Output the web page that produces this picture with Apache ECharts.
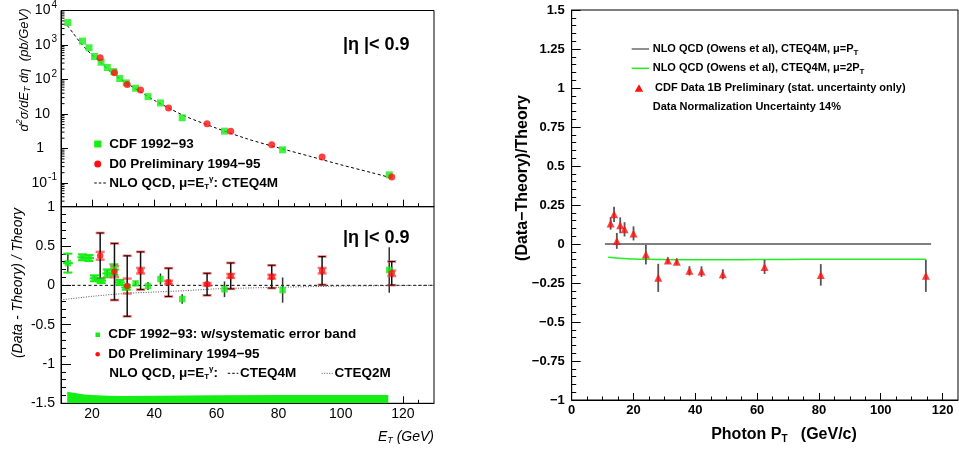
<!DOCTYPE html>
<html><head><meta charset="utf-8">
<script src="https://cdn.jsdelivr.net/npm/echarts@6/dist/echarts.min.js"></script>
<style>html,body{margin:0;padding:0;background:#fff}#c{width:959px;height:454px}</style>
</head><body><div id="c"></div><script>
// ---------- data: left top (cross section) ----------
const cdfEt    = [12.2,16.9,19.0,20.8,22.9,24.9,27.0,28.9,31.0,34.0,38.0,42.0,49.0,62.6,81.3,115.6];
const cdfXsec  = [4470,1300,830,465,318,223,170,107,80,56,32,21,7.8,3.2,0.92,0.173];
const d0Et     = [22.6,27.2,31.3,35.6,44.6,57.0,64.6,77.8,94.0,116.4];
const d0Xsec   = [426,156,72,50,15,5.2,3.2,1.3,0.57,0.15];
const nloEt    = [12,14,16,18,20,23,26,30,35,40,45,50,60,70,80,90,100,110,116.5];
const nloXsec  = [3700,2150,1250,780,520,300,165,92,47,25,14.5,8.6,3.9,1.9,1.05,0.6,0.34,0.2,0.14];
// ---------- data: left bottom (ratio) ----------
const cdfRatio = [0.283,0.356,0.347,0.089,0.059,0.152,0.20,0.038,-0.025,0.025,-0.009,0.08,-0.174,-0.05,-0.06,0.195];
const cdfStat  = [0.13,0.02,0.02,0.03,0.03,0.04,0.05,0.04,0.04,0.03,0.05,0.07,0.06,0.1,0.16,0.29];
const cdfSys   = [0.12,0.038,0.038,0.038,0.03,0.05,0.068,0.03,0.03,0,0,0,0,0,0,0];
const d0Ratio  = [0.376,0.173,-0.009,0.186,0.038,0.013,0.12,0.11,0.186,0.153];
const d0Err    = [0.29,0.36,0.385,0.24,0.18,0.14,0.165,0.145,0.18,0.15];
const d0Inner  = [0.05,0.07,0.095,0.036,0.02,0.015,0.025,0.025,0.035,0.035];
const cteq4mX  = [10,130];
const cteq4mY  = [0,0];
const cteq2mX  = [10,20,30,40,50,60,80,100,130];
const cteq2mY  = [-0.185,-0.14,-0.105,-0.085,-0.068,-0.045,-0.025,-0.01,0];
const bandX    = [12.0,14,16,18,20,25,30,40,60,80,100,115.3];
const bandY    = [-1.352,-1.365,-1.38,-1.39,-1.395,-1.403,-1.407,-1.405,-1.398,-1.395,-1.394,-1.394];
// ---------- data: right panel ----------
const photonPt    = [12.6,13.7,14.6,15.7,17.1,20.0,24.0,28.0,31.1,34.0,38.1,42.0,48.9,62.4,80.6,114.6];
const photonRatio = [0.132,0.19,0.02,0.12,0.094,0.068,-0.068,-0.217,-0.106,-0.113,-0.172,-0.177,-0.194,-0.147,-0.198,-0.204];
const photonErr   = [0.04,0.049,0.051,0.051,0.046,0.045,0.063,0.09,0.02,0.02,0.03,0.034,0.032,0.045,0.069,0.103];
const muPtX = [10.75,116.3];
const muPtY = [0,0];
const mu2PtX = [11.8,15,20,25,30,40,50,60,70,80,100,114.6];
const mu2PtY = [-0.085,-0.09,-0.096,-0.098,-0.1,-0.101,-0.101,-0.1,-0.099,-0.098,-0.097,-0.097];
// ---------- ticks ----------
const leftMajorTicks = [20,40,60,80,100,120];
const leftMinorTicks = [15,25,30,35,45,50,55,65,70,75,85,90,95,105,110,115,125];
const logMinorTicks = [];
for (let k=-2;k<=3;k++) for (let m=2;m<=9;m++){ const v=m*Math.pow(10,k); if (v>0.0207 && v<10000) logMinorTicks.push(v); }
const rightXTicks = [0,20,40,60,80,100,120];
const rightXMinor = [5,10,15,25,30,35,45,50,55,65,70,75,85,90,95,105,110,115];

const F = '"Liberation Sans", Arial, Helvetica, sans-serif';
const GREEN = '#14ee14', RED = '#ff1010';
const zip = (a,b)=>a.map((v,i)=>[v,b[i]]);

const chart = echarts.init(document.getElementById('c'), null, {renderer:'canvas'});

function xAx(grid, min, max, major, minor, showLabel, labelStyle){
  return [{gridIndex:grid,type:'value',min,max,position:'bottom',
    axisLine:{show:true,onZero:false,lineStyle:{color:'#000',width:1}},
    axisTick:{show:true,inside:true,length:7,customValues:major,lineStyle:{color:'#000'}},
    axisLabel:Object.assign({show:showLabel,customValues:major,color:'#000',fontFamily:F,margin:4},labelStyle||{}),
    splitLine:{show:false}},
   {gridIndex:grid,type:'value',min,max,position:'bottom',
    axisLine:{show:false,onZero:false},
    axisTick:{show:true,inside:true,length:3.5,customValues:minor,lineStyle:{color:'#000'}},
    axisLabel:{show:false},splitLine:{show:false}}];
}

const cdfErrData = cdfEt.map((x,i)=>[x,cdfRatio[i],cdfStat[i],cdfSys[i]]);
const d0ErrData  = d0Et.map((x,i)=>[x,d0Ratio[i],d0Err[i],d0Inner[i]]);
const phErrData  = photonPt.map((x,i)=>[x,photonRatio[i],photonErr[i]]);

function L(x1,y1,x2,y2,stroke,w){return {type:'line',shape:{x1,y1,x2,y2},style:{stroke,lineWidth:w}};}

const richSub = {
  sb:{font:'bold 8px '+F,fill:'#000',padding:[7,0,0,0]},
  sp:{font:'bold 8px '+F,fill:'#000',padding:[0,0,9,0]}
};
const richSubI = {
  sb:{font:'italic 9px '+F,fill:'#000',padding:[7,0,0,0]},
  sp:{font:'italic 9px '+F,fill:'#000',padding:[0,0,9,0]}
};
function T(x,y,text,font,extra){
  extra = extra||{};
  return {type:'text',x,y,z:100,rotation:extra.rotation||0,
    style:{text,font,fill:'#000',align:extra.align||'left',verticalAlign:'middle',rich:extra.rich}};
}
const legFont = 'bold 13.5px '+F;
const rLegFont = 'bold 11px '+F;
const noSym = {symbol:'none',showSymbol:false};

const option = {
  animation:false,
  backgroundColor:'#fff',
  grid:[
    {left:61,top:10,width:373,height:196.7,show:true,borderColor:'#000',borderWidth:1,containLabel:false},
    {left:61,top:206.7,width:373,height:196.6,show:true,borderColor:'#000',borderWidth:1,containLabel:false},
    {left:571.7,top:10,width:386.3,height:390,show:true,borderColor:'#000',borderWidth:1,containLabel:false}
  ],
  xAxis:[].concat(
    xAx(0,10,130,leftMajorTicks,leftMinorTicks,false),
    xAx(1,10,130,leftMajorTicks,leftMinorTicks,true,{fontSize:14}),
    xAx(2,0,125,rightXTicks,rightXMinor,true,{fontSize:13,fontWeight:'bold',margin:4})
  ),
  yAxis:[
    {gridIndex:0,type:'log',logBase:10,min:0.0207,max:10000,
     axisLine:{show:true,lineStyle:{color:'#000'}},
     axisTick:{show:true,inside:true,length:7,lineStyle:{color:'#000'}},
     splitLine:{show:false},
     axisLabel:{color:'#000',fontFamily:F,fontSize:14,margin:4,
       formatter:v=>{const e=Math.log10(v);const r=Math.round(e);if(Math.abs(e-r)>1e-6)return '';
         if(r===0)return '{one|1}'; if(r===1)return '{ten|10}'; return '{b|10}{s|'+r+'}';},
       rich:{b:{fontSize:14,fontFamily:F,color:'#000'},
             s:{fontSize:10,fontFamily:F,color:'#000',padding:[0,0,11,1]},
             one:{fontSize:14,fontFamily:F,color:'#000',padding:[0,13,0,0]},
             ten:{fontSize:14,fontFamily:F,color:'#000',padding:[0,7,0,0]}}}},
    {gridIndex:1,type:'value',min:-1.5,max:1,interval:0.5,
     axisLine:{show:true,onZero:false,lineStyle:{color:'#000'}},
     axisTick:{show:true,inside:true,length:10,lineStyle:{color:'#000'}},
     minorTick:{show:true,splitNumber:5,length:5,lineStyle:{color:'#000'}},
     splitLine:{show:false},
     axisLabel:{color:'#000',fontFamily:F,fontSize:14,margin:6}},
    {gridIndex:2,type:'value',min:-1,max:1.5,interval:0.25,
     axisLine:{show:true,onZero:false,lineStyle:{color:'#000'}},
     axisTick:{show:true,inside:true,length:9,lineStyle:{color:'#000'}},
     minorTick:{show:true,splitNumber:5,length:4.5,lineStyle:{color:'#000'}},
     splitLine:{show:false},
     axisLabel:{color:'#000',fontFamily:F,fontSize:13,fontWeight:'bold',margin:7,
       formatter:v=>String(v).replace('-','\u2212')}}
  ],
  series:[
    // log minor ticks (top-left)
    {type:'custom',xAxisIndex:0,yAxisIndex:0,silent:true,z:5,
     data:logMinorTicks.map(v=>[10,v]),
     renderItem:(p,api)=>{const c=api.coord([api.value(0),api.value(1)]);return L(c[0],c[1],c[0]+3.5,c[1],'#000',1);}},
    Object.assign({type:'line',xAxisIndex:0,yAxisIndex:0,data:zip(nloEt,nloXsec),smooth:0.3,
     lineStyle:{color:'#000',width:1,type:[3,2.5]},z:3},noSym),
    {type:'scatter',xAxisIndex:0,yAxisIndex:0,data:zip(cdfEt,cdfXsec),symbol:'rect',symbolSize:7,
     itemStyle:{color:GREEN},z:4},
    {type:'scatter',xAxisIndex:0,yAxisIndex:0,data:zip(d0Et,d0Xsec),symbol:'circle',symbolSize:7,
     itemStyle:{color:RED},z:5},
    // bottom-left
    Object.assign({type:'line',xAxisIndex:2,yAxisIndex:1,data:zip(bandX,bandY),
     lineStyle:{width:0},areaStyle:{color:GREEN,opacity:1,origin:'start'},z:2},noSym),
    Object.assign({type:'line',xAxisIndex:2,yAxisIndex:1,data:zip(cteq4mX,cteq4mY),
     lineStyle:{color:'#000',width:1,type:[3,2.5]},z:3},noSym),
    Object.assign({type:'line',xAxisIndex:2,yAxisIndex:1,data:zip(cteq2mX,cteq2mY),smooth:0.3,
     lineStyle:{color:'#555',width:1,type:[1,1.5]},z:3},noSym),
    {type:'custom',xAxisIndex:2,yAxisIndex:1,data:cdfErrData,encode:{x:0,y:1},z:4,
     renderItem:(p,api)=>{
       const x=api.value(0),y=api.value(1),e=api.value(2),s=api.value(3);
       const t=api.coord([x,y+e]),b=api.coord([x,y-e]),c=api.coord([x,y]);
       const ch=[L(t[0],t[1],b[0],b[1],'#333',1.5)];
       if(s>0){const st=api.coord([x,y+s]),sb=api.coord([x,y-s]);
         ch.push(L(st[0]-4.5,st[1],st[0]+4.5,st[1],GREEN,2));
         ch.push(L(sb[0]-4.5,sb[1],sb[0]+4.5,sb[1],GREEN,2));
         ch.push(L(c[0]-5,c[1],c[0]+5,c[1],GREEN,2));}
       return {type:'group',children:ch};}},
    {type:'custom',xAxisIndex:2,yAxisIndex:1,data:d0ErrData,encode:{x:0,y:1},z:4,
     renderItem:(p,api)=>{
       const x=api.value(0),y=api.value(1),e=api.value(2),s=api.value(3);
       const t=api.coord([x,y+e]),b=api.coord([x,y-e]);
       const st=api.coord([x,y+s]),sb=api.coord([x,y-s]);
       const ch=[];
       [st,sb].forEach(q=>ch.push(L(q[0]-4.5,q[1],q[0]+4.5,q[1],'rgba(255,70,70,0.75)',2.5)));
       [t,b].forEach(q=>ch.push(L(q[0]-4.5,q[1],q[0]+4.5,q[1],'rgba(255,70,70,0.8)',2.5)));
       ch.push(L(t[0],t[1],b[0],b[1],'#111',1.5));
       [t,b].forEach(q=>ch.push(L(q[0]-3.5,q[1],q[0]+3.5,q[1],'#111',1)));
       return {type:'group',children:ch};}},
    {type:'scatter',xAxisIndex:2,yAxisIndex:1,data:zip(cdfEt,cdfRatio),symbol:'rect',symbolSize:6.5,
     itemStyle:{color:GREEN},z:6},
    {type:'scatter',xAxisIndex:2,yAxisIndex:1,data:zip(d0Et,d0Ratio),symbol:'circle',symbolSize:6.5,
     itemStyle:{color:RED},z:6},
    // right panel
    Object.assign({type:'line',xAxisIndex:4,yAxisIndex:2,data:zip(muPtX,muPtY),
     lineStyle:{color:'#000',width:1.2},z:3},noSym),
    Object.assign({type:'line',xAxisIndex:4,yAxisIndex:2,data:zip(mu2PtX,mu2PtY),smooth:0.3,
     lineStyle:{color:'#22ee22',width:1.5},z:3},noSym),
    {type:'custom',xAxisIndex:4,yAxisIndex:2,data:phErrData,encode:{x:0,y:1},z:4,
     renderItem:(p,api)=>{
       const x=api.value(0),y=api.value(1),e=api.value(2);
       const t=api.coord([x,y+e]),b=api.coord([x,y-e]);
       return L(t[0],t[1],b[0],b[1],'#555',1.8);}},
    {type:'scatter',xAxisIndex:4,yAxisIndex:2,data:zip(photonPt,photonRatio),symbol:'triangle',symbolSize:[8,8],
     itemStyle:{color:RED},z:6}
  ],
  graphic:{elements:[
    // top-left texts
    T(343,45,'|η |< 0.9','bold 18px '+F),
    {type:'rect',shape:{x:94.2,y:140.5,width:7,height:7},style:{fill:GREEN},z:100},
    T(109.3,144,'CDF 1992\u221293',legFont),
    {type:'circle',shape:{cx:97.7,cy:164,r:3.5},style:{fill:RED},z:100},
    T(109.3,164,'D0 Preliminary 1994\u221295',legFont),
    {type:'line',shape:{x1:94.3,y1:183,x2:107.3,y2:183},style:{stroke:'#000',lineWidth:1,lineDash:[2.5,2]},z:100},
    T(109.3,183,'NLO QCD, μ=E{sb|T}{sp|γ}: CTEQ4M',legFont,{rich:richSub}),
    T(24,70,'d{sp|2}σ/dE{sb|T} dη  (pb/GeV)','italic 13px '+F,{rotation:Math.PI/2,align:'center',rich:richSubI}),
    // bottom-left texts
    T(343,238.3,'|η |< 0.9','bold 18px '+F),
    {type:'rect',shape:{x:95.5,y:332.5,width:4.5,height:4.5},style:{fill:GREEN},z:100},
    T(108.3,334.7,'CDF 1992\u221293: w/systematic error band',legFont),
    {type:'circle',shape:{cx:97.7,cy:354.3,r:2.3},style:{fill:RED},z:100},
    T(108.3,354.3,'D0 Preliminary 1994\u221295',legFont),
    T(109.3,373.3,'NLO QCD, μ=E{sb|T}{sp|γ}:',legFont,{rich:richSub}),
    {type:'line',shape:{x1:227.7,y1:373.3,x2:238.3,y2:373.3},style:{stroke:'#000',lineWidth:1,lineDash:[2.5,2]},z:100},
    T(240,373.3,'CTEQ4M',legFont),
    {type:'line',shape:{x1:321.7,y1:373.3,x2:333.3,y2:373.3},style:{stroke:'#555',lineWidth:1,lineDash:[1,1.5]},z:100},
    T(334.5,373.3,'CTEQ2M',legFont),
    T(18,283,'(Data - Theory) / Theory','italic 14px '+F,{rotation:Math.PI/2,align:'center'}),
    T(434,437,'E{sb|T} (GeV)','italic 14px '+F,{align:'right',rich:richSubI}),
    // right panel texts
    {type:'line',shape:{x1:631.7,y1:49,x2:649,y2:49},style:{stroke:'#444',lineWidth:1.2},z:100},
    T(652.7,49,'NLO QCD (Owens et al), CTEQ4M, μ=P{sb|T}',rLegFont,{rich:richSub}),
    {type:'line',shape:{x1:631.7,y1:68.3,x2:649,y2:68.3},style:{stroke:'#22ee22',lineWidth:1.5},z:100},
    T(652.7,68.3,'NLO QCD (Owens et al), CTEQ4M, μ=2P{sb|T}',rLegFont,{rich:richSub}),
    {type:'polygon',shape:{points:[[639,84.3],[643.2,91.8],[634.8,91.8]]},style:{fill:RED},z:100},
    T(655,88.3,'CDF Data 1B Preliminary (stat. uncertainty only)',rLegFont),
    T(652.7,107.3,'Data Normalization Uncertainty 14%',rLegFont),
    T(523,178,'(Data\u2212Theory)/Theory','bold 16px '+F,{rotation:Math.PI/2,align:'center'}),
    T(784,435,'Photon P{sb|T}   (GeV/c)','bold 16px '+F,{align:'center',rich:{sb:{font:'bold 10px '+F,fill:'#000',padding:[8,0,0,0]}}})
  ]}
};
chart.setOption(option);
</script></body></html>
